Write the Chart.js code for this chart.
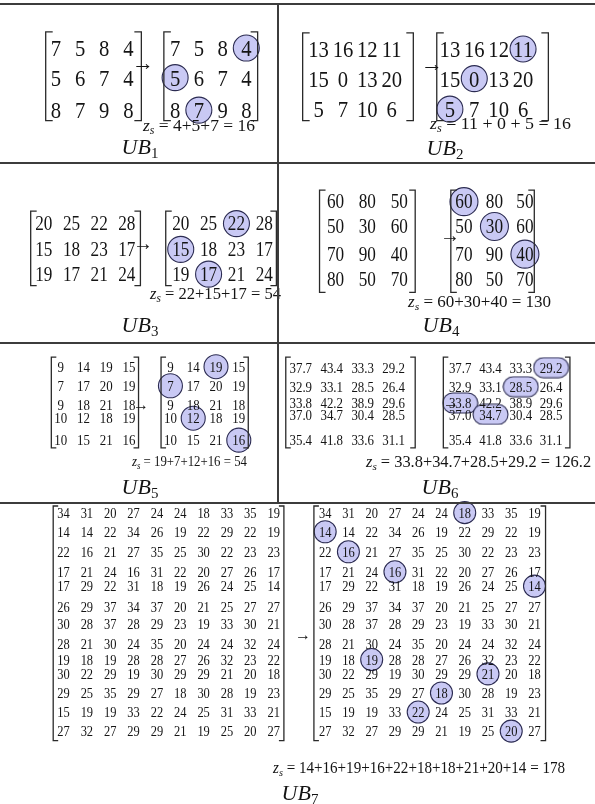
<!DOCTYPE html>
<html>
<head>
<meta charset="utf-8">
<script src="https://cdn.jsdelivr.net/npm/chart.js@4.4.1/dist/chart.umd.min.js"></script>
<style>
  html, body { margin: 0; padding: 0; background: #fff; }
  #page { position: relative; width: 595px; height: 804px; overflow: hidden;
          font-family: "Liberation Serif", "Times New Roman", serif; color: #141414; }
  #board { position: absolute; left: 0; top: 0; z-index: 0; }
  .rule { position: absolute; background: #3c3c3c; z-index: 3; }
  .txt { position: absolute; white-space: nowrap; line-height: 1; z-index: 2;
         transform-origin: left center; }
  .mid { transform: translate(-50%, -50%); }
  sub { font-size: 0.68em; vertical-align: -0.28em; line-height: 0; }
</style>
</head>
<body>
<div id="page">
  <canvas id="board" width="595" height="804"></canvas>
</div>
<script>
// 쪼개진 비용 행렬들 (UB1 ~ UB7) 과 각 단계에서 고른 칸 [행, 열]
// 고른 칸 순서 = 그림 속 z_s 식에 더하는 순서
const UB1_MATRIX = [[7, 5, 8, 4], [5, 6, 7, 4], [8, 7, 9, 8]];
const UB1_CHOSEN = [[0, 3], [1, 0], [2, 1]];

const UB2_MATRIX = [[13, 16, 12, 11], [15, 0, 13, 20], [5, 7, 10, 6]];
const UB2_CHOSEN = [[0, 3], [1, 1], [2, 0]];

const UB3_MATRIX = [[20, 25, 22, 28], [15, 18, 23, 17], [19, 17, 21, 24]];
const UB3_CHOSEN = [[0, 2], [1, 0], [2, 1]];

const UB4_MATRIX = [[60, 80, 50], [50, 30, 60], [70, 90, 40], [80, 50, 70]];
const UB4_CHOSEN = [[0, 0], [1, 1], [2, 2]];

const UB5_MATRIX = [[9, 14, 19, 15], [7, 17, 20, 19], [9, 18, 21, 18], [10, 12, 18, 19], [10, 15, 21, 16]];
const UB5_CHOSEN = [[0, 2], [1, 0], [3, 1], [4, 3]];

const UB6_MATRIX = [
  [37.7, 43.4, 33.3, 29.2],
  [32.9, 33.1, 28.5, 26.4],
  [33.8, 42.2, 38.9, 29.6],
  [37.0, 34.7, 30.4, 28.5],
  [35.4, 41.8, 33.6, 31.1],
];
const UB6_CHOSEN = [[2, 0], [3, 1], [1, 2], [0, 3]];

const UB7_MATRIX = [
  [34, 31, 20, 27, 24, 24, 18, 33, 35, 19],
  [14, 14, 22, 34, 26, 19, 22, 29, 22, 19],
  [22, 16, 21, 27, 35, 25, 30, 22, 23, 23],
  [17, 21, 24, 16, 31, 22, 20, 27, 26, 17],
  [17, 29, 22, 31, 18, 19, 26, 24, 25, 14],
  [26, 29, 37, 34, 37, 20, 21, 25, 27, 27],
  [30, 28, 37, 28, 29, 23, 19, 33, 30, 21],
  [28, 21, 30, 24, 35, 20, 24, 24, 32, 24],
  [19, 18, 19, 28, 28, 27, 26, 32, 23, 22],
  [30, 22, 29, 19, 30, 29, 29, 21, 20, 18],
  [29, 25, 35, 29, 27, 18, 30, 28, 19, 23],
  [15, 19, 19, 33, 22, 24, 25, 31, 33, 21],
  [27, 32, 27, 29, 29, 21, 19, 25, 20, 27],
];
const UB7_CHOSEN = [[1, 0], [2, 1], [8, 2], [3, 3], [11, 4], [10, 5], [0, 6], [9, 7], [12, 8], [4, 9]];

const PANEL_NAMES = ["1", "2", "3", "4", "5", "6", "7"];

// ── 배치 (페이지 좌표, px) ─────────────────────────────
const PAGE_W = 595, PAGE_H = 804;
const FONT = '"Liberation Serif", "Times New Roman", serif';
const TEXT_SX = 0.86;            // 원본 글자가 옆으로 살짝 눌려 있다
const MARK_FILL = "#c9c9f4";
const MARK_EDGE = "#2c2c52";

const PANELS = [
  { matrix: UB1_MATRIX, chosen: UB1_CHOSEN, dec: 0, font: 24, rows: [31, 62, 96], top: 14, bottom: 107, serif: 7,
    left: { x0: 29, x1: 131, c0: 40, dc: 25.7 }, right: { x0: 155, x1: 255, c0: 167, dc: 25.3 },
    mark: 13, arrow: { x: 143, y: 63, size: 22 }, zs: { x0: 143, x1: 255, y: 125, size: 17, plus: "+" },
    label: { x: 140, y: 147 } },
  { matrix: UB2_MATRIX, chosen: UB2_CHOSEN, dec: 0, font: 24, rows: [32, 63, 95], top: 15, bottom: 107, serif: 7,
    left: { x0: 303, x1: 421, c0: 320, dc: 26 }, right: { x0: 446, x1: 565, c0: 460, dc: 26 },
    mark: 13, arrow: { x: 432, y: 64, size: 22 }, zs: { x0: 430, x1: 571, y: 123, size: 17, plus: " + " },
    label: { x: 445, y: 148 } },
  { matrix: UB3_MATRIX, chosen: UB3_CHOSEN, dec: 0, font: 20, rows: [215, 242, 268], top: 202, bottom: 280, serif: 6,
    left: { x0: 13, x1: 130, c0: 27, dc: 29.5 }, right: { x0: 157, x1: 275, c0: 173, dc: 29.7 },
    mark: 13, arrow: { x: 143, y: 243, size: 20 }, zs: { x0: 150, x1: 281, y: 293, size: 17, plus: "+" },
    label: { x: 140, y: 325 } },
  { matrix: UB4_MATRIX, chosen: UB4_CHOSEN, dec: 0, font: 20, rows: [192, 218, 247, 273], top: 180, bottom: 287, serif: 6,
    left: { x0: 321, x1: 423, c0: 338, dc: 34 }, right: { x0: 461, x1: 550, c0: 475, dc: 32.5 },
    mark: 14, arrow: { x: 450, y: 235, size: 20 }, zs: { x0: 408, x1: 551, y: 302, size: 16, plus: "+" },
    label: { x: 441, y: 325 } },
  { matrix: UB5_MATRIX, chosen: UB5_CHOSEN, dec: 0, font: 15, rows: [365, 385, 405, 419, 442], top: 355, bottom: 450, serif: 5,
    left: { x0: 35, x1: 128, c0: 45, dc: 24.3 }, right: { x0: 152, x1: 245, c0: 162, dc: 24.3 },
    mark: 12, arrow: { x: 141, y: 405, size: 16 }, zs: { x0: 132, x1: 247, y: 462, size: 14, plus: "+" },
    label: { x: 140, y: 487 } },
  { matrix: UB6_MATRIX, chosen: UB6_CHOSEN, dec: 1, font: 15, rows: [366, 386, 403, 415, 442], top: 355, bottom: 450, serif: 5,
    left: { x0: 285, x1: 423, c0: 301, dc: 33 }, right: { x0: 453, x1: 588, c0: 471, dc: 32.3 },
    pill: { w: 35, h: 20 }, arrow: { x: 451, y: 403, size: 16 }, zs: { x0: 366, x1: 591, y: 462, size: 16, plus: "+" },
    label: { x: 440, y: 487 } },
  { matrix: UB7_MATRIX, chosen: UB7_CHOSEN, dec: 0, font: 14.5,
    rows: [518, 538, 559, 580, 595, 617, 635, 656, 672, 687, 707, 727, 747], top: 511, bottom: 757, serif: 5,
    left: { x0: 37, x1: 283, c0: 48, dc: 24.9 }, right: { x0: 315, x1: 562, c0: 327, dc: 24.8 },
    mark: 11, arrow: { x: 303, y: 635, size: 16 }, zs: { x0: 273, x1: 565, y: 768, size: 16, plus: "+" },
    label: { x: 300, y: 793 } },
];

const RULES = [
  { x: 0, y: 3, w: PAGE_W, h: 2 },
  { x: 0, y: 162, w: PAGE_W, h: 2 },
  { x: 0, y: 342, w: PAGE_W, h: 2 },
  { x: 0, y: 502, w: PAGE_W, h: 2 },
  { x: 277, y: 3, w: 2, h: 501 },
];

// ── 데이터셋 만들기 ────────────────────────────────────
const fmt = (v, dec) => v.toFixed(dec);

function cellPoints(p, side) {
  const pts = [];
  p.matrix.forEach((row, r) => row.forEach((v, c) => {
    pts.push({ x: side.c0 + side.dc * c, y: p.rows[r], label: fmt(v, p.dec) });
  }));
  return pts;
}

// 알약 모양 강조 (UB6) — Chart.js pointStyle 로 쓰는 작은 캔버스
function pillImage(w, h) {
  const c = document.createElement("canvas");
  c.width = w + 2; c.height = h + 2;
  const g = c.getContext("2d");
  const r = h / 2, x = 1, y = 1;
  g.beginPath();
  g.moveTo(x + r, y);
  g.lineTo(x + w - r, y);
  g.arc(x + w - r, y + r, r, -Math.PI / 2, Math.PI / 2);
  g.lineTo(x + r, y + h);
  g.arc(x + r, y + r, r, Math.PI / 2, Math.PI * 1.5);
  g.closePath();
  g.fillStyle = MARK_FILL; g.fill();
  g.lineWidth = 1.1; g.strokeStyle = MARK_EDGE; g.stroke();
  return c;
}

const datasets = [];
const brackets = [];
PANELS.forEach((p) => {
  // 오른쪽 행렬에서 고른 칸 강조
  const marks = p.chosen.map(([r, c]) => ({ x: p.right.c0 + p.right.dc * c, y: p.rows[r] }));
  datasets.push(p.pill
    ? { data: marks, pointStyle: pillImage(p.pill.w, p.pill.h), pointRadius: p.pill.w / 2 }
    : { data: marks, pointStyle: "circle", pointRadius: p.mark, backgroundColor: MARK_FILL,
        borderColor: MARK_EDGE, borderWidth: 1.1 });
  for (const side of [p.left, p.right]) {
    datasets.push({ data: cellPoints(p, side), pointRadius: 0, cellText: true, fontSize: p.font });
    brackets.push({ x0: side.x0, x1: side.x1, top: p.top, bottom: p.bottom, serif: p.serif });
  }
});

// 행렬 괄호 + 칸 숫자
const matrixPlugin = {
  id: "matrixText",
  afterDatasetsDraw(chart, _args, opts) {
    const { ctx, scales: { x, y } } = chart;
    ctx.save();
    ctx.strokeStyle = "#2a2a2a";
    ctx.lineWidth = 1.3;
    for (const b of opts.brackets) {
      const l = x.getPixelForValue(b.x0), r = x.getPixelForValue(b.x1);
      const t = y.getPixelForValue(b.top), bt = y.getPixelForValue(b.bottom);
      ctx.beginPath();
      ctx.moveTo(l + b.serif, t); ctx.lineTo(l, t); ctx.lineTo(l, bt); ctx.lineTo(l + b.serif, bt);
      ctx.moveTo(r - b.serif, t); ctx.lineTo(r, t); ctx.lineTo(r, bt); ctx.lineTo(r - b.serif, bt);
      ctx.stroke();
    }
    ctx.fillStyle = "#141414";
    ctx.textAlign = "center";
    ctx.textBaseline = "alphabetic";
    chart.data.datasets.forEach((ds, i) => {
      if (!ds.cellText) return;
      ctx.font = `${ds.fontSize}px ${FONT}`;
      chart.getDatasetMeta(i).data.forEach((pt, j) => {
        ctx.save();
        ctx.translate(pt.x, pt.y + ds.fontSize * 0.34); // 숫자 높이의 가운데를 칸 중심에
        ctx.scale(TEXT_SX, 1);
        ctx.fillText(ds.data[j].label, 0, 0);
        ctx.restore();
      });
    });
    ctx.restore();
  },
};

new Chart(document.getElementById("board"), {
  type: "scatter",
  data: { datasets },
  options: {
    responsive: false,
    animation: false,
    devicePixelRatio: 1,
    events: [],
    layout: { padding: 0 },
    scales: {
      x: { type: "linear", min: 0, max: PAGE_W, display: false },
      y: { type: "linear", min: 0, max: PAGE_H, reverse: true, display: false },
    },
    plugins: {
      legend: { display: false },
      tooltip: { enabled: false },
      matrixText: { brackets },
    },
  },
  plugins: [matrixPlugin],
});

// ── 글자 (화살표, z_s 식, UB 이름) ─────────────────────
const page = document.getElementById("page");

function addText(html, size, x, y) {
  const el = document.createElement("div");
  el.className = "txt";
  el.innerHTML = html;
  el.style.fontSize = size + "px";
  el.style.left = x + "px";
  el.style.top = y + "px";
  page.appendChild(el);
  return el;
}

PANELS.forEach((p, i) => {
  const a = addText("&rarr;", p.arrow.size, p.arrow.x, p.arrow.y);
  a.classList.add("mid");

  const vals = p.chosen.map(([r, c]) => p.matrix[r][c]);
  const sum = vals.reduce((s, v) => s + v, 0);
  const formula = `<i>z</i><sub><i>s</i></sub> = ${vals.map((v) => fmt(v, p.dec)).join(p.zs.plus)} = ${fmt(sum, p.dec)}`;
  const z = addText(formula, p.zs.size, p.zs.x0, p.zs.y);
  const k = (p.zs.x1 - p.zs.x0) / z.getBoundingClientRect().width; // 원본 식의 폭에 맞춘다
  z.style.transform = `translateY(-50%) scaleX(${k.toFixed(3)})`;

  const lb = addText(`<i>UB</i><sub>${PANEL_NAMES[i]}</sub>`, 22, p.label.x, p.label.y);
  lb.classList.add("mid");
});

for (const r of RULES) {
  const el = document.createElement("div");
  el.className = "rule";
  Object.assign(el.style, { left: r.x + "px", top: r.y + "px", width: r.w + "px", height: r.h + "px" });
  page.appendChild(el);
}
</script>
</body>
</html>
